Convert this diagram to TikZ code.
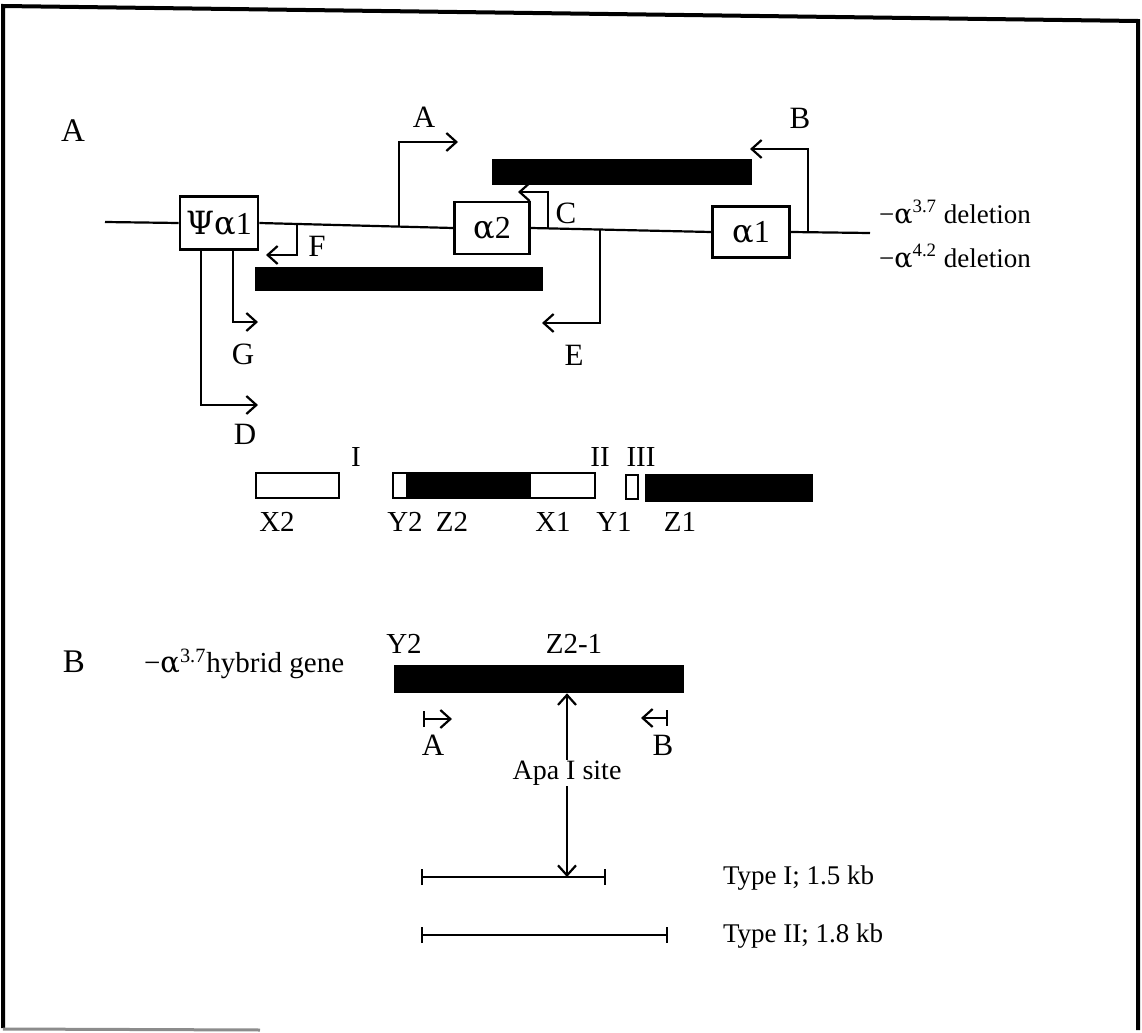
\documentclass[tikz,border=0pt]{standalone}
\usepackage{fontspec}
\setmainfont{Liberation Serif}
\newfontfamily\grkfont{DejaVu Serif}
\newcommand{\alp}{{\grkfont α}}
\newcommand{\psig}{{\grkfont Ψ}}
\usetikzlibrary{arrows.meta}
\begin{document}
\begin{tikzpicture}[x=0.5pt,y=-0.5pt, line width=1.1pt,
  tip/.style={-{Straight Barb[length=5pt,width=9pt]}},
  gene/.style={draw, line width=1.3pt, inner sep=0pt, font=\fontsize{16}{18}\selectfont},
  lab/.style={inner sep=0pt, font=\fontsize{15.5}{17}\selectfont},
  txt/.style={inner sep=0pt, font=\fontsize{13.5}{16}\selectfont},
  seglab/.style={inner sep=0pt, font=\fontsize{14.5}{17}\selectfont},
  blk/.style={fill=black, draw=black, line width=0.8pt, inner sep=0pt},
  wht/.style={fill=white, draw=black, line width=1.2pt, inner sep=0pt},
]
\useasboundingbox (0,0) rectangle (1142,1033);
% frame
\draw[line width=2pt] (3,1028) -- (3,6) -- (1138,21) -- (1138,1030);
\draw[line width=1.5pt, black!45] (3,1029) -- (260,1030);

% ---------------- Part A ----------------
\node[lab, font=\fontsize{16.5}{18}\selectfont] (secA) at (73,131) {A};

\node[gene, minimum width=39pt, minimum height=26.5pt] (psi) at (219,223) {\psig\alp 1};
\node[gene, minimum width=37.5pt, minimum height=26pt] (a2) at (492,228) {\alp 2};
\node[gene, minimum width=38.5pt, minimum height=25.5pt] (a1) at (751,232) {\alp 1};

\coordinate (lstart) at (105,222);
\coordinate (lend) at (870,233);
\draw (lstart) -- (psi.west);
\draw (psi.east) -- (a2.west);
\draw (a2.east) -- (a1.west);
\draw (a1.east) -- (lend);

% deletion bars
\node[blk, minimum width=129pt, minimum height=12.5pt] (bar37) at (622,172) {};
\node[blk, minimum width=143pt, minimum height=11.5pt] (bar42) at (399,279) {};

% primer arrows
\coordinate (pA) at (399,226);
\coordinate (pB) at (808,232.5);
\coordinate (pC) at (548,228);
\coordinate (pE) at (600,229);
\coordinate (pF) at (297,224);
\coordinate (pG) at (233,236.25);
\coordinate (pD) at (201,236.25);

\draw[tip] (pA) |- (458,142);
\draw[tip] (pB) |- (750,149);
\draw[tip] (pC) |- (518,192);
\draw[tip] (pE) |- (542,323);
\draw[tip] (pF) |- (266,255);
\draw[tip] (pG |- psi.south) |- (258,322);
\draw[tip] (pD |- psi.south) |- (258,405);

\node[lab] (lA) at (424,117) {A};
\node[lab] (lB) at (800,118) {B};
\node[lab] (lC) at (566,213) {C};
\node[lab] (lE) at (574,355) {E};
\node[lab] (lF) at (317,246) {F};
\node[lab] (lG) at (243,354) {G};
\node[lab] (lD) at (245,434) {D};

\node[txt, anchor=west] (del37) at (878,212) {−\alp\textsuperscript{3.7} deletion};
\node[txt, anchor=west] (del42) at (878,256) {−\alp\textsuperscript{4.2} deletion};

% segments row
\node[wht, minimum width=41.5pt, minimum height=12.5pt] (x2) at (297.5,485.5) {};
\node[wht, minimum width=101pt, minimum height=12.5pt] (y2x1) at (494,485.5) {};
\node[blk, minimum width=61.5pt, minimum height=11.6pt] (z2) at (468.5,485.5) {};
\node[wht, minimum width=6pt, minimum height=12pt] (y1) at (632,487) {};
\node[blk, minimum width=83pt, minimum height=13pt] (z1) at (729,488) {};

\node[seglab] (rI) at (356,457) {I};
\node[seglab] (rII) at (600,457) {II};
\node[seglab] (rIII) at (641,457) {III};

\node[seglab] (tX2) at (277,522) {X2};
\node[seglab] (tY2) at (405,522) {Y2};
\node[seglab] (tZ2) at (452,522) {Z2};
\node[seglab] (tX1) at (553,522) {X1};
\node[seglab] (tY1) at (614,522) {Y1};
\node[seglab] (tZ1) at (680,522) {Z1};

% ---------------- Part B ----------------
\node[lab, font=\fontsize{16.5}{18}\selectfont] (secB) at (74,662) {B};
\node[txt, anchor=west, font=\fontsize{14.5}{16}\selectfont] (hyb) at (143,664) {−\alp\textsuperscript{3.7}hybrid gene};
\node[blk, minimum width=144pt, minimum height=13.5pt] (hbar) at (539,679) {};
\node[seglab] (hY2) at (404,644) {Y2};
\node[seglab] (hZ2) at (574,644) {Z2-1};

\coordinate (prA) at (423,719);
\coordinate (prAe) at (452,719);
\coordinate (prB) at (668,718);
\coordinate (prBe) at (641,718);
\draw[{Bar[width=8pt]}-{Straight Barb[length=5pt,width=9pt]}] (prA) -- (prAe);
\draw[{Bar[width=8pt]}-{Straight Barb[length=5pt,width=9pt]}] (prB) -- (prBe);
\node[lab] (hA) at (433,745) {A};
\node[lab] (hB) at (663,745) {B};

\node[txt, font=\fontsize{14}{16}\selectfont] (apa) at (567,773) {Apa I site};
\coordinate (t1a) at (421,877);
\coordinate (t1b) at (606,877);
\coordinate (t2a) at (421,935);
\coordinate (t2b) at (668,935);
\draw[tip] (apa.north) -- (apa.north |- hbar.south);
\draw[tip] (apa.south) -- (apa.south |- t1a);
\draw[{Bar[width=8pt]}-{Bar[width=8pt]}] (t1a) -- (t1b);
\draw[{Bar[width=8pt]}-{Bar[width=8pt]}] (t2a) -- (t2b);
\node[txt] (ty1) at (722,878) [anchor=west] {Type I; 1.5 kb};
\node[txt] (ty2) at (722,936) [anchor=west] {Type II; 1.8 kb};
\end{tikzpicture}
\end{document}
